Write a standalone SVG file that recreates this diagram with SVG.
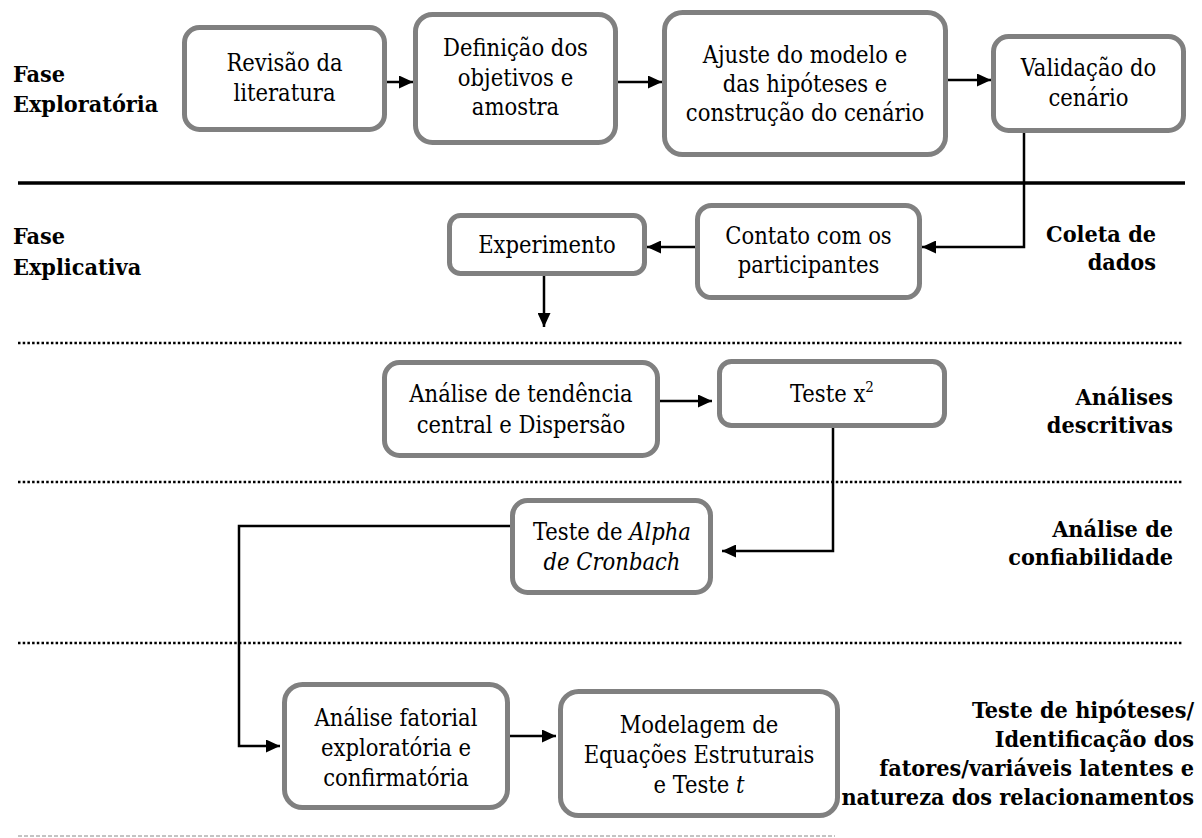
<svg xmlns="http://www.w3.org/2000/svg" width="1202" height="838" viewBox="0 0 1202 838">
<style>
.box{fill:#fff;stroke:#808080;stroke-width:5}
.t{font-family:"DejaVu Serif Condensed","DejaVu Serif",serif;font-stretch:condensed;font-size:23.5px;fill:#000;text-anchor:middle}
.lab{font-family:"DejaVu Serif Condensed","DejaVu Serif",serif;font-stretch:condensed;font-size:23.2px;font-weight:bold;fill:#000}
.end{text-anchor:end}
.c{fill:none;stroke:#000;stroke-width:2.5}
.dot{stroke:#000;stroke-width:2.5;stroke-dasharray:2.5 2.2}
</style>
<defs>
<marker id="ah" markerUnits="userSpaceOnUse" markerWidth="15" markerHeight="13" refX="14" refY="6.5" orient="auto">
<path d="M0,0 L14,6.5 L0,13 z" fill="#000"/>
</marker>
</defs>
<rect width="1202" height="838" fill="#fff"/>
<g id="separators">
<line x1="18" y1="183" x2="1185" y2="183" stroke="#000" stroke-width="3.5"/>
<line class="dot" x1="18" y1="343" x2="1183" y2="343"/>
<line class="dot" x1="18" y1="482" x2="1183" y2="482"/>
<line class="dot" x1="18" y1="643" x2="1183" y2="643"/>
<line x1="18" y1="836" x2="835" y2="836" stroke="#888" stroke-width="1" stroke-dasharray="4 2"/>
</g>
<g id="labels">
<text class="lab" x="13" y="82">Fase</text>
<text class="lab" x="13" y="112">Exploratória</text>
<text class="lab" x="13" y="244">Fase</text>
<text class="lab" x="13" y="275">Explicativa</text>
<text class="lab end" x="1156" y="242">Coleta de</text>
<text class="lab end" x="1156" y="270">dados</text>
<text class="lab end" x="1173" y="405">Análises</text>
<text class="lab end" x="1173" y="433">descritivas</text>
<text class="lab end" x="1173" y="537">Análise de</text>
<text class="lab end" x="1173" y="565">confiabilidade</text>
<text class="lab end" x="1194" y="718">Teste de hipóteses/</text>
<text class="lab end" x="1194" y="747">Identificação dos</text>
<text class="lab end" x="1194" y="776">fatores/variáveis latentes e</text>
<text class="lab end" x="1194" y="805">natureza dos relacionamentos</text>
</g>
<g id="connectors">
<line class="c" x1="387" y1="82" x2="413" y2="82" marker-end="url(#ah)"/>
<line class="c" x1="618" y1="82" x2="662" y2="82" marker-end="url(#ah)"/>
<line class="c" x1="948" y1="80" x2="991" y2="80" marker-end="url(#ah)"/>
<polyline class="c" points="1024,133 1024,247 922,247" marker-end="url(#ah)"/>
<line class="c" x1="695" y1="247" x2="647" y2="247" marker-end="url(#ah)"/>
<line class="c" x1="544" y1="276" x2="544" y2="327" marker-end="url(#ah)"/>
<line class="c" x1="660" y1="401" x2="712" y2="401" stroke-width="3.5" marker-end="url(#ah)"/>
<polyline class="c" points="833,428 833,551 722,551" marker-end="url(#ah)"/>
<polyline class="c" points="510,526 239,526 239,746 280,746" marker-end="url(#ah)"/>
<line class="c" x1="510" y1="736" x2="556" y2="736" marker-end="url(#ah)"/>
</g>
<g id="revisao">
<rect class="box" x="184.5" y="27.5" width="200" height="102" rx="15"/>
<text class="t" x="284.5" y="71">Revisão da</text>
<text class="t" x="284.5" y="101">literatura</text>
</g>
<g id="definicao">
<rect class="box" x="415.5" y="14.5" width="200" height="128" rx="17"/>
<text class="t" x="515.5" y="56">Definição dos</text>
<text class="t" x="515.5" y="85.5">objetivos e</text>
<text class="t" x="515.5" y="115">amostra</text>
</g>
<g id="ajuste">
<rect class="box" x="664.5" y="12.5" width="281" height="142" rx="18"/>
<text class="t" x="805" y="63">Ajuste do modelo e</text>
<text class="t" x="805" y="92">das hipóteses e</text>
<text class="t" x="805" y="121">construção do cenário</text>
</g>
<g id="validacao">
<rect class="box" x="993.5" y="36.5" width="190" height="94" rx="15"/>
<text class="t" x="1088.5" y="76">Validação do</text>
<text class="t" x="1088.5" y="106">cenário</text>
</g>
<g id="contato">
<rect class="box" x="697.5" y="205.5" width="222" height="92" rx="14"/>
<text class="t" x="808.5" y="244">Contato com os</text>
<text class="t" x="808.5" y="273">participantes</text>
</g>
<g id="experimento">
<rect class="box" x="449.5" y="215.5" width="195" height="58" rx="11"/>
<text class="t" x="547" y="253">Experimento</text>
</g>
<g id="tendencia">
<rect class="box" x="384.5" y="362.5" width="273" height="93" rx="15"/>
<text class="t" x="521" y="402">Análise de tendência</text>
<text class="t" x="521" y="433">central e Dispersão</text>
</g>
<g id="qui">
<rect class="box" x="719.5" y="361.5" width="225" height="64" rx="12"/>
<text class="t" x="832" y="402">Teste x<tspan font-size="15" dy="-10">2</tspan></text>
</g>
<g id="alpha">
<rect class="box" x="512.5" y="500.5" width="198" height="92" rx="15"/>
<text class="t" x="612" y="540">Teste de <tspan font-style="italic">Alpha</tspan></text>
<text class="t" x="612" y="570" font-style="italic">de Cronbach</text>
</g>
<g id="fatorial">
<rect class="box" x="284.5" y="684.5" width="223" height="123" rx="18"/>
<text class="t" x="396" y="726">Análise fatorial</text>
<text class="t" x="396" y="756">exploratória e</text>
<text class="t" x="396" y="786">confirmatória</text>
</g>
<g id="modelagem">
<rect class="box" x="560.5" y="691.5" width="277" height="124" rx="18"/>
<text class="t" x="699" y="733">Modelagem de</text>
<text class="t" x="699" y="763">Equações Estruturais</text>
<text class="t" x="699" y="793">e Teste <tspan font-style="italic">t</tspan></text>
</g>
</svg>
